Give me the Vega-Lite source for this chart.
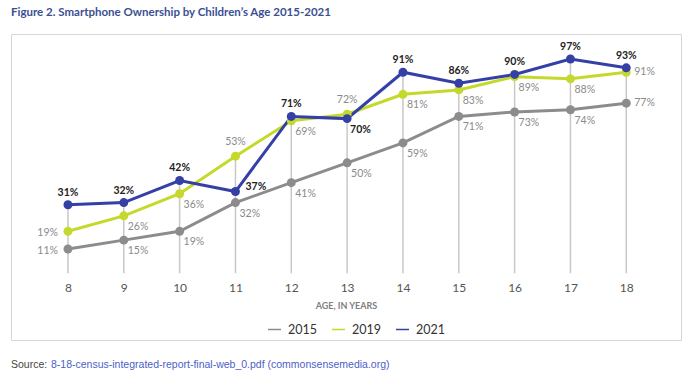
{
  "$schema": "https://vega.github.io/schema/vega-lite/v6.json",
  "background": "white",
  "padding": {"left": 10, "top": 7, "right": 5, "bottom": 0},
  "config": {"view": {"stroke": null}, "font": "Lato"},
  "title": {"text": "Figure 2. Smartphone Ownership by Children’s Age 2015-2021", "anchor": "start", "frame": "group", "font": "Lato", "fontSize": 11.5, "fontWeight": "bold", "color": "#3b4f93", "offset": 15},
  "spacing": 18,
  "vconcat": [
    {
      "width": 670,
      "height": 306,
      "view": {"stroke": "#d6d6d6", "strokeWidth": 1},
      "data": {"values": [
        {"age": 8, "year": "2015", "value": 11},
        {"age": 9, "year": "2015", "value": 15},
        {"age": 10, "year": "2015", "value": 19},
        {"age": 11, "year": "2015", "value": 32},
        {"age": 12, "year": "2015", "value": 41},
        {"age": 13, "year": "2015", "value": 50},
        {"age": 14, "year": "2015", "value": 59},
        {"age": 15, "year": "2015", "value": 71},
        {"age": 16, "year": "2015", "value": 73},
        {"age": 17, "year": "2015", "value": 74},
        {"age": 18, "year": "2015", "value": 77},
        {"age": 8, "year": "2019", "value": 19},
        {"age": 9, "year": "2019", "value": 26},
        {"age": 10, "year": "2019", "value": 36},
        {"age": 11, "year": "2019", "value": 53},
        {"age": 12, "year": "2019", "value": 69},
        {"age": 13, "year": "2019", "value": 72},
        {"age": 14, "year": "2019", "value": 81},
        {"age": 15, "year": "2019", "value": 83},
        {"age": 16, "year": "2019", "value": 89},
        {"age": 17, "year": "2019", "value": 88},
        {"age": 18, "year": "2019", "value": 91},
        {"age": 8, "year": "2021", "value": 31},
        {"age": 9, "year": "2021", "value": 32},
        {"age": 10, "year": "2021", "value": 42},
        {"age": 11, "year": "2021", "value": 37},
        {"age": 12, "year": "2021", "value": 71},
        {"age": 13, "year": "2021", "value": 70},
        {"age": 14, "year": "2021", "value": 91},
        {"age": 15, "year": "2021", "value": 86},
        {"age": 16, "year": "2021", "value": 90},
        {"age": 17, "year": "2021", "value": 97},
        {"age": 18, "year": "2021", "value": 93}
      ]},
      "encoding": {
        "x": {"field": "age", "type": "ordinal", "sort": null,
          "scale": {"type": "point", "padding": 1.03, "align": 0.51},
          "axis": {"title": "AGE, IN YEARS", "titleFont": "Lato", "titleFontSize": 9, "titleFontWeight": "bold", "titleColor": "#808080", "titlePadding": 8,
            "labelAngle": 0, "labelFont": "Lato", "labelFontSize": 12, "labelColor": "#555555", "labelPadding": 5,
            "domain": false, "ticks": false, "grid": false, "offset": -63}},
        "y": {"field": "value", "type": "quantitative", "scale": {"domain": [-30.2, 108.3], "nice": false, "zero": false}, "axis": null}
      },
      "layer": [
        {
          "mark": {"type": "rule", "color": "#c8c8c8", "strokeWidth": 1.5},
          "encoding": {
            "y": {"aggregate": "max", "field": "value", "type": "quantitative"},
            "y2": {"datum": 0}
          }
        },
        {
          "mark": {"type": "line", "strokeWidth": 3, "point": {"filled": true, "size": 80}},
          "encoding": {
            "color": {"field": "year", "type": "nominal",
              "scale": {"domain": ["2015", "2019", "2021"], "range": ["#8c8c8c", "#c5d92b", "#3440a6"]},
              "legend": {"title": null, "orient": "none", "legendX": 256, "legendY": 288, "direction": "horizontal",
                "symbolType": "stroke", "symbolStrokeWidth": 1.5, "symbolSize": 169,
                "labelFont": "Lato", "labelFontSize": 12.5, "labelColor": "#333333", "labelOffset": 6, "columnPadding": 12}}
          }
        },
        {
          "transform": [{"filter": "datum.year == '2021' && datum.age != 11 && datum.age != 13"}, {"calculate": "datum.value + '%'", "as": "label"}],
          "mark": {"type": "text", "align": "center", "dy": -12, "font": "Lato", "fontSize": 10.5, "fontWeight": "bold", "color": "#222222"},
          "encoding": {"text": {"field": "label"}}
        },
        {
          "transform": [{"filter": "datum.year == '2021' && datum.age == 11"}, {"calculate": "datum.value + '%'", "as": "label"}],
          "mark": {"type": "text", "align": "left", "dx": 10, "dy": -5, "font": "Lato", "fontSize": 10.5, "fontWeight": "bold", "color": "#222222"},
          "encoding": {"text": {"field": "label"}}
        },
        {
          "transform": [{"filter": "datum.year == '2021' && datum.age == 13"}, {"calculate": "datum.value + '%'", "as": "label"}],
          "mark": {"type": "text", "align": "left", "dx": 3, "dy": 11, "font": "Lato", "fontSize": 10.5, "fontWeight": "bold", "color": "#222222"},
          "encoding": {"text": {"field": "label"}}
        },
        {
          "transform": [{"filter": "datum.year != '2021' && datum.age == 8"}, {"calculate": "datum.value + '%'", "as": "label"}],
          "mark": {"type": "text", "align": "right", "dx": -10, "dy": 2, "font": "Lato", "fontSize": 10.5, "color": "#8a8a8a"},
          "encoding": {"text": {"field": "label"}}
        },
        {
          "transform": [{"filter": "datum.year != '2021' && datum.age == 18"}, {"calculate": "datum.value + '%'", "as": "label"}],
          "mark": {"type": "text", "align": "left", "dx": 8, "dy": 0, "font": "Lato", "fontSize": 10.5, "color": "#8a8a8a"},
          "encoding": {"text": {"field": "label"}}
        },
        {
          "transform": [{"filter": "datum.year == '2019' && (datum.age == 11 || datum.age == 13)"}, {"calculate": "datum.value + '%'", "as": "label"}],
          "mark": {"type": "text", "align": "center", "dy": -14, "font": "Lato", "fontSize": 10.5, "color": "#8a8a8a"},
          "encoding": {"text": {"field": "label"}}
        },
        {
          "transform": [{"filter": "datum.year != '2021' && datum.age > 8 && datum.age < 18 && !(datum.year == '2019' && (datum.age == 11 || datum.age == 13))"}, {"calculate": "datum.value + '%'", "as": "label"}],
          "mark": {"type": "text", "align": "left", "dx": 4, "dy": 11, "font": "Lato", "fontSize": 10.5, "color": "#8a8a8a"},
          "encoding": {"text": {"field": "label"}}
        }
      ]
    },
    {
      "spacing": 3,
      "hconcat": [
        {
          "width": 36, "height": 1,
          "view": {"stroke": null},
          "data": {"values": []},
          "mark": "text",
          "title": {"text": "Source:", "anchor": "start", "font": "Liberation Sans", "fontSize": 10.5, "fontWeight": "normal", "color": "#444444", "offset": 0}
        },
        {
          "width": 360, "height": 1,
          "view": {"stroke": null},
          "data": {"values": []},
          "mark": "text",
          "title": {"text": "8-18-census-integrated-report-final-web_0.pdf (commonsensemedia.org)", "anchor": "start", "font": "Liberation Sans", "fontSize": 10.5, "fontWeight": "normal", "color": "#4b5fc6", "offset": 0}
        }
      ]
    }
  ]
}
